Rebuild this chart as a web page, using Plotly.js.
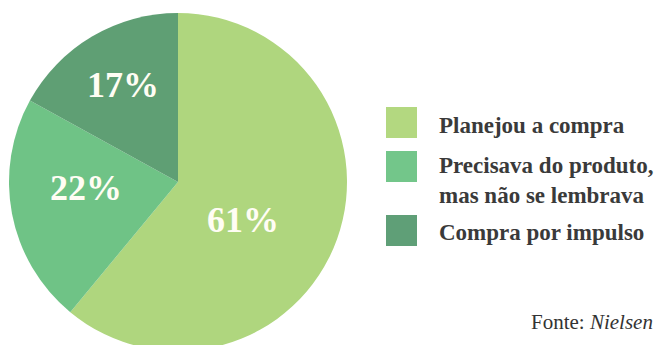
<!DOCTYPE html>
<html><head><meta charset="utf-8">
<script src="https://cdn.plot.ly/plotly-3.0.1.min.js"></script>
<style>html,body{margin:0;padding:0;overflow:hidden;background:#fff;width:659px;height:345px}</style>
</head><body>
<div id="chart" style="width:659px;height:360px"></div>
<script>
const categories = ["Planejou a compra", "Precisava do produto,<br>mas não se lembrava", "Compra por impulso"];
const values = [61, 22, 17];
const colors = ["#afd67e", "#6fc386", "#5f9f74"];
const legendColors = ["#b3d880", "#73c68a", "#5f9f77"];
const source = "Fonte: <i>Nielsen</i>";

const W = 659, H = 360;
const px = x => x / W, py = y => 1 - y / H;

const labelPos = [[243, 220], [86, 188], [123, 85]];
const legendBoxes = [[386, 107, 417, 138], [386, 151, 417, 182], [386, 215, 417, 246]];
const legendText = [[437, 126], [437, 180], [437, 232]];

const serif = "Liberation Serif, Times New Roman, serif";
const annotations = [];
values.forEach((v, i) => {
  annotations.push({xref: "paper", yref: "paper", x: px(labelPos[i][0]), y: py(labelPos[i][1]),
    text: "<b>" + v + "%</b>", showarrow: false, xanchor: "center", yanchor: "middle",
    font: {family: serif, size: 36, color: "#fffdf4"}});
  annotations.push({xref: "paper", yref: "paper", x: px(legendText[i][0]), y: py(legendText[i][1]),
    text: "<b>" + categories[i] + "</b>", showarrow: false, xanchor: "left", yanchor: "middle", align: "left",
    font: {family: serif, size: 23, color: "#3a3a3a"}});
});
annotations.push({xref: "paper", yref: "paper", x: px(655), y: py(322), text: source, showarrow: false,
  xanchor: "right", yanchor: "middle", font: {family: serif, size: 21, color: "#333"}});

const shapes = legendBoxes.map((b, i) => ({type: "rect", xref: "paper", yref: "paper",
  x0: px(b[0]), x1: px(b[2]), y0: py(b[3]), y1: py(b[1]), fillcolor: legendColors[i], line: {width: 0}}));

Plotly.newPlot("chart", [{
  type: "pie", labels: categories, values: values, sort: false, direction: "clockwise", rotation: 0,
  marker: {colors: colors, line: {width: 0}}, textinfo: "none", hoverinfo: "none",
  domain: {x: [px(9), px(347)], y: [py(351), py(13)]}
}], {
  width: W, height: H, margin: {l: 0, r: 0, t: 0, b: 0}, showlegend: false,
  paper_bgcolor: "#fff", annotations: annotations, shapes: shapes
}, {staticPlot: true});
</script>
</body></html>
